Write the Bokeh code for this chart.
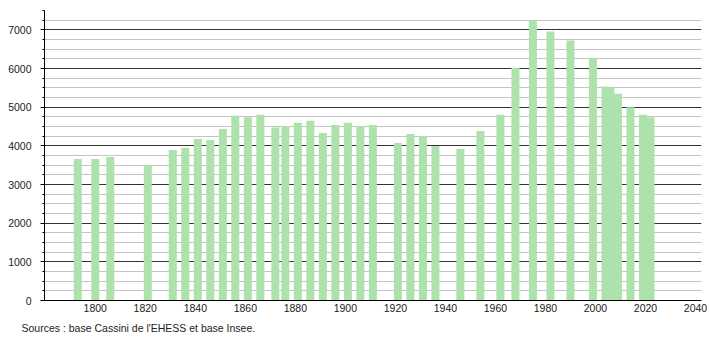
from bokeh.plotting import figure
from bokeh.models import FixedTicker, SingleIntervalTicker, Title, Range1d, ColumnDataSource
from bokeh.embed import file_html
from bokeh.resources import INLINE

years = [1793, 1800, 1806, 1821, 1831, 1836, 1841, 1846, 1851, 1856, 1861, 1866,
         1872, 1876, 1881, 1886, 1891, 1896, 1901, 1906, 1911, 1921, 1926, 1931,
         1936, 1946, 1954, 1962, 1968, 1975, 1982, 1990, 1999, 2004, 2006, 2009,
         2014, 2019, 2022]
population = [3660, 3660, 3712, 3496, 3893, 3953, 4179, 4153, 4438, 4776, 4741, 4801,
              4472, 4516, 4594, 4646, 4334, 4542, 4594, 4516, 4542, 4075, 4309, 4248,
              3997, 3919, 4386, 4801, 6022, 7250, 6956, 6722, 6281, 5536, 5502, 5347,
              5001, 4801, 4741]
x_ticks = [1800, 1820, 1840, 1860, 1880, 1900, 1920, 1940, 1960, 1980, 2000, 2020, 2040]
source_text = "Sources : base Cassini de l'EHESS et base Insee."

FONT = "Liberation Sans"

p = figure(width=710, height=340, output_backend="svg", toolbar_location=None,
           x_range=Range1d(1779.7, 2042.4), y_range=Range1d(0, 7500),
           min_border_left=44, min_border_right=9, min_border_top=10, min_border_bottom=40)
p.outline_line_color = None
p.background_fill_color = "white"
p.border_fill_color = "white"

src = ColumnDataSource(dict(x=years, top=population))
p.vbar(x="x", top="top", bottom=0, width=3.2, source=src,
       fill_color="#ade2ad", line_color=None)

# grid
p.xgrid.grid_line_color = None
p.ygrid.ticker = SingleIntervalTicker(interval=1000, num_minor_ticks=4)
p.ygrid.grid_line_color = "#333333"
p.ygrid.grid_line_width = 1
p.ygrid.minor_grid_line_color = "#c4c4c4"
p.ygrid.minor_grid_line_width = 1

# y axis
p.yaxis.ticker = SingleIntervalTicker(interval=1000, num_minor_ticks=4)
p.yaxis.axis_line_color = "black"
p.yaxis.major_tick_out = 4
p.yaxis.major_tick_in = 0
p.yaxis.minor_tick_out = 2
p.yaxis.minor_tick_in = 0
p.yaxis.major_tick_line_color = "black"
p.yaxis.minor_tick_line_color = "black"
p.yaxis.major_label_standoff = 9
p.yaxis.major_label_text_font = FONT
p.yaxis.major_label_text_font_size = "10.5px"
p.yaxis.major_label_text_color = "#222222"

# x axis
p.xaxis.ticker = FixedTicker(ticks=x_ticks)
p.xaxis.axis_line_color = "black"
p.xaxis.major_tick_line_color = None
p.xaxis.minor_tick_line_color = None
p.xaxis.major_tick_out = 0
p.xaxis.major_tick_in = 0
p.xaxis.major_label_standoff = 3
p.xaxis.major_label_text_font = FONT
p.xaxis.major_label_text_font_size = "10.5px"
p.xaxis.major_label_text_color = "#222222"

t = Title(text=source_text, align="left", offset=-23, standoff=10,
          text_font=FONT, text_font_size="10.5px", text_font_style="normal",
          text_color="#222222")
p.add_layout(t, "below")

open("out.html", "w").write(file_html(p, INLINE))
